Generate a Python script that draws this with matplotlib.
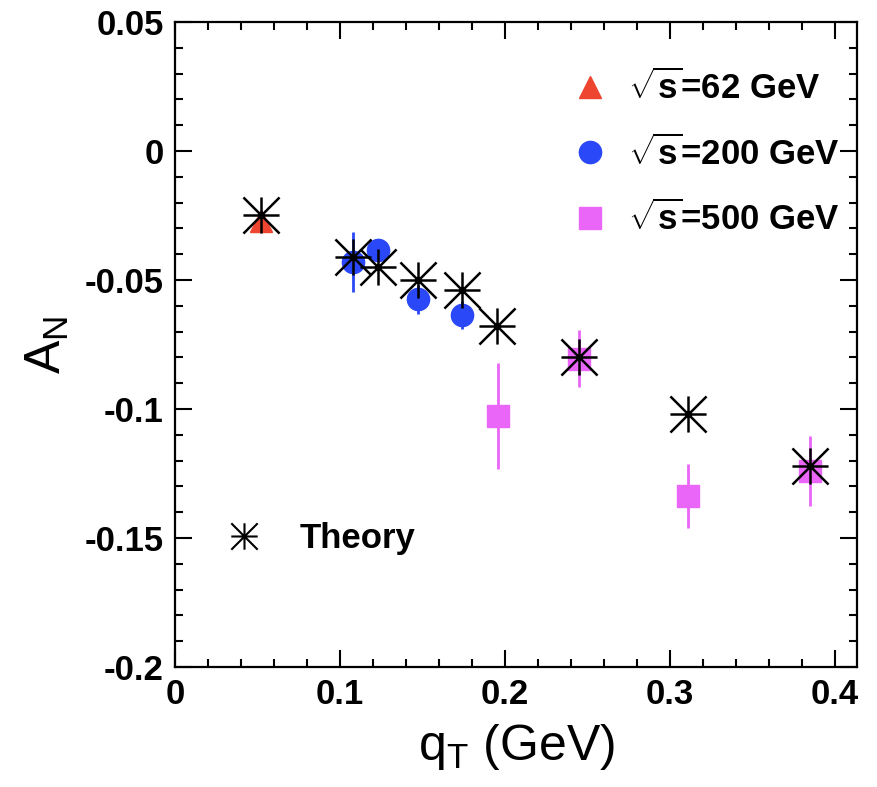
import numpy as np
import matplotlib
matplotlib.use('Agg')
import matplotlib.pyplot as plt
from matplotlib.path import Path
from matplotlib.lines import Line2D
from matplotlib.ticker import MultipleLocator

plt.rcParams['font.family'] = ['Liberation Sans', 'DejaVu Sans']
plt.rcParams['mathtext.fontset'] = 'custom'
plt.rcParams['mathtext.rm'] = 'Liberation Sans:bold'
plt.rcParams['mathtext.it'] = 'Liberation Sans:bold'
plt.rcParams['mathtext.bf'] = 'Liberation Sans:bold'

# data
qt_62 = [0.052]
an_62 = [-0.027]
err_62 = [0.002]

qt_200 = [0.108, 0.123, 0.147, 0.174]
an_200 = [-0.043, -0.0385, -0.0575, -0.0635]
err_200 = [0.0117, 0.003, 0.0055, 0.0055]

qt_500 = [0.196, 0.245, 0.311, 0.385]
an_500 = [-0.1027, -0.0805, -0.1337, -0.124]
err_500 = [0.0205, 0.011, 0.0125, 0.0135]

qt_th = [0.052, 0.108, 0.123, 0.147, 0.174, 0.195, 0.245, 0.311, 0.385]
an_th = [-0.0248, -0.041, -0.045, -0.050, -0.054, -0.068, -0.080, -0.102, -0.122]

xticks = [0, 0.1, 0.2, 0.3, 0.4]
xlabels = ['0', '0.1', '0.2', '0.3', '0.4']
yticks = [-0.2, -0.15, -0.1, -0.05, 0, 0.05]
ylabels = ['-0.2', '-0.15', '-0.1', '-0.05', '0', '0.05']

c62 = '#ee4530'
c200 = '#2a48f8'
c500 = '#ea66f8'

# ROOT-style asterisk: diagonals go to the box corners
star = Path([(-1, 0), (1, 0), (0, -1), (0, 1), (-1, -1), (1, 1), (-1, 1), (1, -1)],
            [Path.MOVETO, Path.LINETO] * 4)

fig = plt.figure(figsize=(8.78, 7.87), dpi=100, facecolor='white')
ax = fig.add_axes([0.1993, 0.1525, 0.7773, 0.8195])

ax.errorbar(qt_62, an_62, yerr=err_62, fmt='^', color=c62, ms=16, mec=c62,
            elinewidth=2, capsize=0, zorder=3)
ax.errorbar(qt_200, an_200, yerr=err_200, fmt='o', color=c200, ms=16, mec=c200,
            elinewidth=2, capsize=0, zorder=3)
ax.errorbar(qt_500, an_500, yerr=err_500, fmt='s', color=c500, ms=16, mec=c500,
            elinewidth=2, capsize=0, zorder=3)
ax.plot(qt_th, an_th, ls='none', marker=star, ms=26, mew=1.8, mec='black',
        mfc='none', zorder=5)

ax.set_xticks(xticks)
ax.set_xticklabels(xlabels, fontweight='bold')
ax.set_yticks(yticks)
ax.set_yticklabels(ylabels, fontweight='bold')
ax.xaxis.set_minor_locator(MultipleLocator(0.02))
ax.yaxis.set_minor_locator(MultipleLocator(0.01))
ax.set_xlim(0, 0.4136)
ax.set_ylim(-0.2, 0.05)
ax.tick_params(which='both', direction='in', top=True, right=True,
               labeltop=False, labelright=False, width=1.5)
ax.tick_params(which='major', length=12, labelsize=25, pad=8)
ax.tick_params(which='minor', length=6)
for s in ax.spines.values():
    s.set_linewidth(1.6)

ax.set_xlabel('q$_{\\mathregular{T}}$ (GeV)', fontsize=36, labelpad=8)
ax.set_ylabel('A$_{\\mathregular{N}}$', fontsize=36, labelpad=10)

h62 = Line2D([], [], ls='none', marker='^', ms=16, color=c62)
h200 = Line2D([], [], ls='none', marker='o', ms=16, color=c200)
h500 = Line2D([], [], ls='none', marker='s', ms=16, color=c500)
leg = ax.legend([h62, h200, h500],
                [r'$\sqrt{s}$=62 GeV', r'$\sqrt{s}$=200 GeV', r'$\sqrt{s}$=500 GeV'],
                loc='upper right', bbox_to_anchor=(1.02, 0.975), frameon=False,
                prop={'weight': 'bold', 'size': 25}, labelspacing=0.85,
                handletextpad=0.5, handlelength=1.2)
ax.add_artist(leg)

hth = Line2D([], [], ls='none', marker=star, ms=19, mew=1.5, mec='black', mfc='none')
ax.legend([hth], ['Theory'], loc='lower left', bbox_to_anchor=(0.025, 0.125),
          frameon=False, prop={'weight': 'bold', 'size': 25},
          handletextpad=1.0, handlelength=1.2)

fig.savefig('out.png', dpi=100, facecolor='white')
